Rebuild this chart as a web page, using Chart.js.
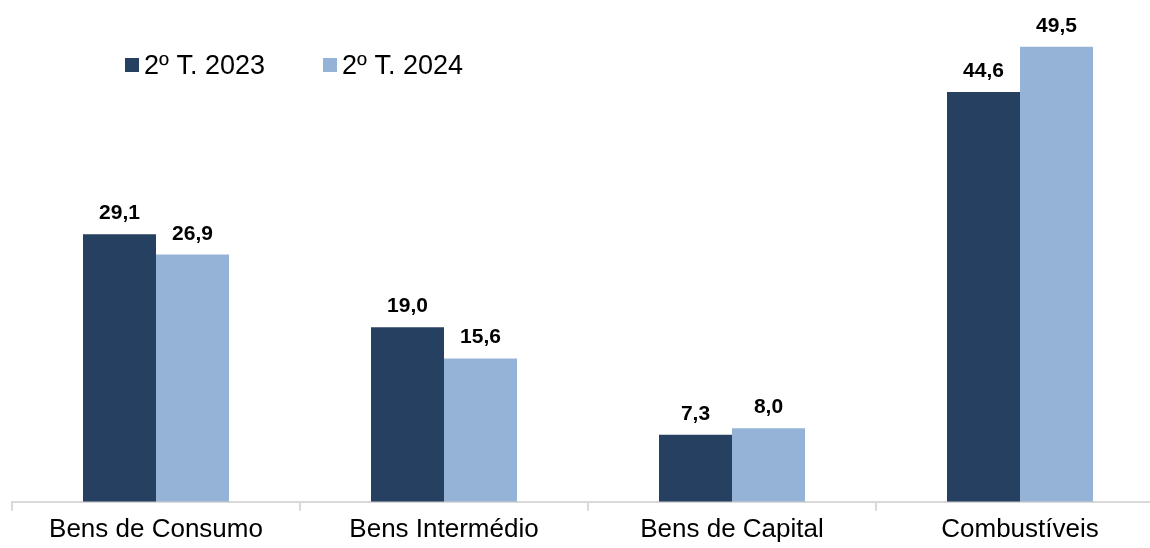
<!DOCTYPE html>
<html>
<head>
<meta charset="utf-8">
<script src="https://cdn.jsdelivr.net/npm/chart.js@4/dist/chart.umd.min.js"></script>
<style>
    html, body { margin: 0; padding: 0; background: #fff; overflow: hidden; }
    #wrap { width: 1150px; height: 548px; overflow: hidden; }
    canvas { display: block; }
</style>
</head>
<body>
<div id="wrap">
    <canvas id="chart" width="1176" height="548"></canvas>
</div>
<script>
const categories = ['Bens de Consumo', 'Bens Intermédio', 'Bens de Capital', 'Combustíveis'];
const seriesNames = ['2º T. 2023', '2º T. 2024'];
const values2023 = [29.1, 19.0, 7.3, 44.6];
const values2024 = [26.9, 15.6, 8.0, 49.5];

const DARK = '#254061';
const LIGHT = '#95B3D7';
const FONT = '"Liberation Sans", Arial, sans-serif';

// value labels above each bar (comma decimals)
const barLabels = {
    id: 'barLabels',
    afterDatasetsDraw(chart) {
        const ctx = chart.ctx;
        ctx.save();
        ctx.font = 'bold 21px ' + FONT;
        ctx.fillStyle = '#000';
        ctx.textAlign = 'center';
        ctx.textBaseline = 'alphabetic';
        chart.data.datasets.forEach((ds, i) => {
            chart.getDatasetMeta(i).data.forEach((bar, j) => {
                const txt = ds.data[j].toFixed(1).replace('.', ',');
                ctx.fillText(txt, bar.x, bar.y - 15);
            });
        });
        ctx.restore();
    }
};

// simple legend in the top-left corner
const topLegend = {
    id: 'topLegend',
    afterDraw(chart) {
        const ctx = chart.ctx;
        const xs = [125, 323];
        ctx.save();
        ctx.font = '27px ' + FONT;
        ctx.textBaseline = 'alphabetic';
        ctx.textAlign = 'left';
        chart.data.datasets.forEach((ds, i) => {
            ctx.fillStyle = ds.backgroundColor;
            ctx.fillRect(xs[i], 58, 14, 14);
            ctx.fillStyle = '#000';
            ctx.fillText(ds.label, xs[i] + 19, 74);
        });
        ctx.restore();
    }
};

new Chart(document.getElementById('chart'), {
    type: 'bar',
    data: {
        labels: categories,
        datasets: [
            { label: seriesNames[0], data: values2023, backgroundColor: DARK },
            { label: seriesNames[1], data: values2024, backgroundColor: LIGHT }
        ]
    },
    options: {
        responsive: false,
        animation: false,
        layout: { padding: { left: 12, right: 12, top: 0, bottom: 0 } },
        datasets: {
            bar: { barPercentage: 1, categoryPercentage: 0.507 }
        },
        plugins: {
            legend: { display: false },
            tooltip: { enabled: false }
        },
        scales: {
            x: {
                grid: {
                    offset: true,
                    drawOnChartArea: false,
                    drawTicks: true,
                    tickLength: 9,
                    color: '#D9D9D9',
                    lineWidth: 2
                },
                border: { display: true, color: '#D9D9D9', width: 2 },
                ticks: {
                    color: '#000',
                    padding: 3,
                    font: { family: FONT, size: 26 }
                }
            },
            y: {
                display: false,
                min: 0,
                max: 54.6
            }
        }
    },
    plugins: [barLabels, topLegend]
});
</script>
</body>
</html>
